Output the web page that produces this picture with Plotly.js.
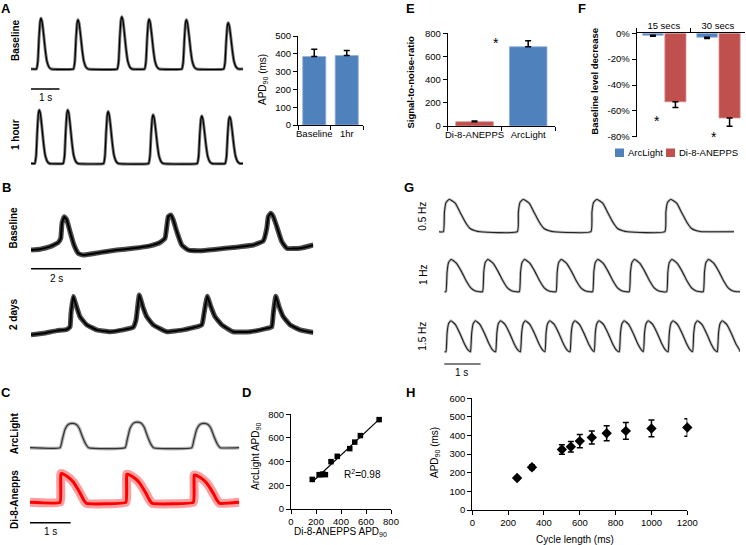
<!DOCTYPE html>
<html><head><meta charset="utf-8">
<script src="https://cdn.plot.ly/plotly-3.0.1.min.js"></script>
<style>html,body{margin:0;padding:0;background:#fff}#chart{width:746px;height:545px}</style>
</head><body><div id="chart"></div>
<script>
// ================= DATA =================
// Panel A: optical AP traces (peak times in s, relative amplitudes)
const aBaselinePeakTimes = [0.35, 1.65, 3.19, 4.15, 5.46, 6.93];
const aBaselinePeakAmps  = [1.0, 0.97, 1.03, 0.98, 0.97, 0.91];
const aHourPeakTimes     = [0.29, 1.29, 2.71, 4.29, 6.00, 6.98];
const aHourPeakAmps      = [1.0, 1.0, 0.97, 0.91, 0.89, 0.875];
const aShapeDt  = [-0.16, -0.11, -0.07, -0.03, 0, 0.04, 0.09, 0.15, 0.21, 0.28, 0.36];
const aShapeAmp = [0, 0.15, 0.6, 0.93, 1, 0.93, 0.7, 0.38, 0.15, 0.04, 0];
const aTraceEnd = 7.45;
// Panel A bar chart
const aBarCats = ['Baseline', '1hr'];
const aBarApd  = [385, 390];
const aBarErr  = [40, 28];

// Panel B: traces read point by point (time s, signal a.u.)
const bBaseT = [0.00,0.36,0.76,1.09,1.19,1.24,1.33,1.43,1.56,1.72,1.89,2.09,2.76,3.43,4.09,4.76,5.16,5.36,5.43,5.49,5.59,5.69,5.83,6.03,6.29,6.76,7.43,8.09,8.89,9.29,9.43,9.49,9.59,9.69,9.83,10.03,10.23,10.76,11.29];
const bBaseV = [0.12,0.14,0.20,0.30,0.40,0.76,0.92,0.84,0.56,0.24,0.04,0.00,0.06,0.12,0.16,0.22,0.30,0.40,0.68,0.92,0.96,0.84,0.56,0.24,0.12,0.10,0.14,0.18,0.24,0.34,0.64,0.92,1.00,0.92,0.68,0.32,0.16,0.16,0.24];
const b2dT = [0.00,0.49,1.03,1.43,1.56,1.60,1.69,1.80,1.96,2.23,2.63,3.16,3.69,4.09,4.20,4.33,4.47,4.63,4.89,5.43,6.09,6.83,6.92,7.05,7.19,7.36,7.63,8.09,8.76,9.43,9.63,9.69,9.79,9.92,10.09,10.36,10.76,11.29];
const b2dV = [-0.04,0.00,0.07,0.10,0.17,0.52,0.96,0.74,0.43,0.22,0.09,0.04,0.09,0.16,0.35,1.00,0.70,0.43,0.22,0.04,0.09,0.22,0.52,0.97,0.70,0.43,0.22,0.04,0.04,0.13,0.17,0.52,0.97,0.70,0.43,0.22,0.09,0.02];

// Panel C: ArcLight vs Di-8-ANEPPS traces
const cArcOnsets = [0.74, 2.34, 3.98];
const cArcAmps   = [1.0, 1.05, 1.0];
const cArcDt     = [0, 0.05, 0.12, 0.2, 0.3, 0.4, 0.47, 0.55, 0.63, 0.7];
const cArcShape  = [0, 0.3, 0.75, 0.95, 1, 0.95, 0.8, 0.45, 0.15, 0];
const cDiOnsets  = [0.74, 2.36, 4.02];
const cDiAmps    = [1.05, 1.03, 1.0];
const cDiDt      = [0, 0.02, 0.1, 0.25, 0.33, 0.42, 0.5, 0.58, 0.65];
const cDiShape   = [0, 1.0, 0.97, 0.82, 0.7, 0.5, 0.3, 0.08, -0.04];
const cTraceEnd  = 5.15;

// Panel D: APD90 correlation (ms)
const dDi8Apd = [170, 225, 240, 255, 275, 320, 370, 470, 510, 555, 705];
const dArcApd = [250, 290, 290, 295, 290, 400, 445, 510, 565, 620, 755];

// Panel E: signal-to-noise ratio
const eCats = ['Di-8-ANEPPS', 'ArcLight'];
const eSnr  = [37, 684];
const eErr  = [7, 52];

// Panel F: baseline level decrease (%)
const fCats     = ['15 secs', '30 secs'];
const fArcLight = [-1.5, -3];
const fArcErr   = [0.8, 1];
const fDi8      = [-53, -65.5];
const fDi8Err   = [4.5, 6.5];
const fTickVals = [-80, -60, -40, -20, 0];
const fTickText = ['-80%', '-60%', '-40%', '-20%', '0%'];

// Panel G: paced traces
const g05Onsets = [0.12, 2.12, 4.11, 6.11];
const g05Amps   = [1, 1, 1, 1];
const g05Dt     = [0, 0.027, 0.07, 0.16, 0.32, 0.45, 0.59, 0.72, 0.86, 0.99];
const g05Shape  = [0, 0.6, 0.9, 1.0, 0.88, 0.6, 0.3, 0.1, 0.03, 0];
const g05End    = 7.98;
const g1Onsets  = [0.045, 1.036, 2.03, 3.02, 4.01, 5.0, 6.01, 7.0];
const g1Amps    = [1, 1, 1, 1, 1, 1, 1, 1];
const g1Dt      = [0, 0.03, 0.07, 0.14, 0.28, 0.42, 0.55, 0.67, 0.78, 0.9];
const g1Shape   = [0, 0.6, 0.9, 1.0, 0.88, 0.62, 0.33, 0.12, 0.03, 0];
const g1End     = 7.99;
const g15Onsets = [0.045, 0.71, 1.39, 2.06, 2.72, 3.40, 4.05, 4.73, 5.38, 6.05, 6.71, 7.38];
const g15Amps   = [1, 1, 1, 1, 1, 1, 1, 1, 1, 1, 1, 1];
const g15Dt     = [0, 0.03, 0.07, 0.13, 0.25, 0.38, 0.5, 0.6, 0.66];
const g15Shape  = [0, 0.6, 0.9, 1.0, 0.88, 0.58, 0.25, 0.05, 0];
const g15End    = 7.99;

// Panel H: APD restitution
const hCycle = [250, 333, 500, 550, 600, 667, 750, 857, 1000, 1200];
const hApd   = [172, 230, 325, 340, 370, 390, 412, 425, 438, 443];
const hErr   = [8, 12, 25, 28, 35, 35, 40, 45, 45, 47];

// ================= BUILD =================
const W = 746, H = 545;
const X = p => p / W;
const Y = p => 1 - p / H;
const BLUE = '#4F81BD', RED = '#C0504D';
const FONT = 'Liberation Sans, Arial, sans-serif';

const layout = {
  width: W, height: H, autosize: false,
  margin: {l: 0, r: 0, t: 0, b: 0},
  paper_bgcolor: '#fff', plot_bgcolor: 'rgba(0,0,0,0)',
  font: {family: FONT, size: 10, color: '#000'},
  showlegend: false, barmode: 'group',
  shapes: [], annotations: []
};
const data = [];
let n = 0;
function newAxes(spec) {
  n++;
  const s = n === 1 ? '' : String(n);
  layout['xaxis' + s] = Object.assign({domain: spec.xd, anchor: 'y' + s}, spec.x);
  layout['yaxis' + s] = Object.assign({domain: spec.yd, anchor: 'x' + s}, spec.y);
  return {x: 'x' + s, y: 'y' + s};
}
function signalAxes(x0, x1, end, yBase, yPeak) {
  const h = yBase - yPeak, lo = -0.45, hi = 1.4;
  const top = Math.max(0, yBase - hi * h), bot = Math.min(H, yBase - lo * h);
  const vBot = (yBase - bot) / h, vTop = (yBase - top) / h;
  return newAxes({xd: [X(x0), X(x1)], yd: [Y(bot), Y(top)],
    x: {range: [0, end], visible: false, fixedrange: true},
    y: {range: [vBot, vTop], visible: false, fixedrange: true}});
}
function beatSeries(onsets, amps, dts, shape, end) {
  const xs = [0], ys = [0];
  onsets.forEach((t0, i) => {
    const limit = i + 1 < onsets.length ? onsets[i + 1] + dts[0] : end;
    dts.forEach((d, j) => {
      const t = t0 + d;
      if (t > xs[xs.length - 1] && t < limit && t < end) { xs.push(t); ys.push(amps[i] * shape[j]); }
    });
  });
  xs.push(end); ys.push(0);
  return {xs, ys};
}
function addSignal(ax, xs, ys, core, coreW, fuzz, fuzzW, smooth) {
  const base = {x: xs, y: ys, xaxis: ax.x, yaxis: ax.y, type: 'scatter', mode: 'lines',
    hoverinfo: 'skip', showlegend: false};
  data.push(Object.assign({}, base, {line: {color: fuzz, width: fuzzW, shape: 'spline', smoothing: smooth}}));
  data.push(Object.assign({}, base, {line: {color: core, width: coreW, shape: 'spline', smoothing: smooth}}));
}
function txt(x, y, text, o) {
  layout.annotations.push(Object.assign({xref: 'paper', yref: 'paper', x: X(x), y: Y(y), text: text,
    showarrow: false, xanchor: 'center', yanchor: 'middle', font: {size: 10, color: '#000', family: FONT}}, o || {}));
}
function scaleBar(ax, t0, t1, ypx, label, labelY, color) {
  layout.shapes.push({type: 'line', xref: ax.x, yref: 'paper', x0: t0, x1: t1, y0: Y(ypx), y1: Y(ypx),
    line: {color: color || '#000', width: 1.5}});
  layout.annotations.push({xref: ax.x, yref: 'paper', x: (t0 + t1) / 2, y: Y(labelY), text: label,
    showarrow: false, xanchor: 'center', yanchor: 'middle', font: {size: 10, color: '#000', family: FONT}});
}

// ---- Panel A traces ----
const axA1 = signalAxes(31, 243, aTraceEnd, 69, 18.3);
let s = beatSeries(aBaselinePeakTimes, aBaselinePeakAmps, aShapeDt, aShapeAmp, aTraceEnd);
addSignal(axA1, s.xs, s.ys, '#000', 1.2, 'rgba(0,0,0,0.55)', 3, 0.3);
const axA2 = signalAxes(31, 243, aTraceEnd, 163.5, 110);
s = beatSeries(aHourPeakTimes, aHourPeakAmps, aShapeDt, aShapeAmp, aTraceEnd);
addSignal(axA2, s.xs, s.ys, '#000', 1.2, 'rgba(0,0,0,0.55)', 3, 0.3);
scaleBar(axA1, 0, 1, 89, '1 s', 97.7);

// ---- Panel A bars ----
const axStyle = {showline: true, linecolor: '#000', linewidth: 1, ticks: 'outside', ticklen: 4,
  tickwidth: 1, tickcolor: '#000', showgrid: false, zeroline: false, tickangle: 0,
  tickfont: {size: 9.5, color: '#000', family: FONT}, fixedrange: true};
const axAB = newAxes({xd: [X(298), X(363)], yd: [Y(125), Y(36)],
  x: Object.assign({}, axStyle, {type: 'category', range: [-0.5, 1.5], tickson: 'boundaries'}),
  y: Object.assign({}, axStyle, {range: [0, 500], dtick: 100, tick0: 0})});
data.push({type: 'bar', x: aBarCats, y: aBarApd, width: 0.71, xaxis: axAB.x, yaxis: axAB.y,
  marker: {color: BLUE, line: {color: '#8fb0da', width: 0.8}}, showlegend: false,
  error_y: {type: 'data', symmetric: false, array: aBarErr, arrayminus: [0, 0], color: '#000', thickness: 1.5, width: 3}});
txt(263, 80, 'APD<sub>90</sub> (ms)', {textangle: -90});

// ---- Panel B ----
const axB1 = signalAxes(31, 313.3, 11.29, 255, 213.3);
addSignal(axB1, bBaseT, bBaseV, '#000', 2, 'rgba(0,0,0,0.7)', 5, 0.35);
const axB2 = signalAxes(31, 313.3, 11.29, 333.3, 295);
addSignal(axB2, b2dT, b2dV, '#000', 2, 'rgba(0,0,0,0.7)', 5, 0.35);
scaleBar(axB1, 0, 2, 268.7, '2 s', 278.3);

// ---- Panel C ----
const axC1 = signalAxes(30, 239.3, cTraceEnd, 447.7, 423.3);
s = beatSeries(cArcOnsets, cArcAmps, cArcDt, cArcShape, cTraceEnd);
addSignal(axC1, s.xs, s.ys, '#333', 1.2, 'rgba(0,0,0,0.3)', 3.5, 0.4);
const axC2 = signalAxes(30, 239.3, cTraceEnd, 502.3, 475);
s = beatSeries(cDiOnsets, cDiAmps, cDiDt, cDiShape, cTraceEnd);
addSignal(axC2, s.xs, s.ys, '#ff0000', 3, 'rgba(255,40,40,0.45)', 9, 0.3);
scaleBar(axC1, 0, 1, 522.7, '1 s', 531.7);

// ---- Panel D ----
const axD = newAxes({xd: [X(291), X(391)], yd: [Y(509), Y(414.3)],
  x: Object.assign({}, axStyle, {range: [0, 800], dtick: 200, tick0: 0}),
  y: Object.assign({}, axStyle, {range: [0, 800], dtick: 200, tick0: 0})});
(function () {
  const m = dDi8Apd.length;
  const mx = dDi8Apd.reduce((a, b) => a + b, 0) / m, my = dArcApd.reduce((a, b) => a + b, 0) / m;
  let sxy = 0, sxx = 0;
  for (let i = 0; i < m; i++) { sxy += (dDi8Apd[i] - mx) * (dArcApd[i] - my); sxx += (dDi8Apd[i] - mx) ** 2; }
  const k = sxy / sxx, b0 = my - k * mx;
  const lx = [Math.min(...dDi8Apd), Math.max(...dDi8Apd)];
  data.push({type: 'scatter', mode: 'lines', x: lx, y: lx.map(v => k * v + b0), xaxis: axD.x, yaxis: axD.y,
    line: {color: '#000', width: 1.2}, showlegend: false, hoverinfo: 'skip'});
})();
data.push({type: 'scatter', mode: 'markers', x: dDi8Apd, y: dArcApd, xaxis: axD.x, yaxis: axD.y,
  marker: {symbol: 'square', size: 5.5, color: '#000'}, showlegend: false, cliponaxis: false});
txt(362, 474, 'R<sup>2</sup>=0.98');
txt(256, 457, 'ArcLight APD<sub>90</sub>', {textangle: -90});
txt(340, 532, 'Di-8-ANEPPS APD<sub>90</sub>');

// ---- Panel E ----
const axE = newAxes({xd: [X(447.7), X(555)], yd: [Y(126), Y(33.3)],
  x: Object.assign({}, axStyle, {type: 'category', range: [-0.5, 1.5], tickson: 'boundaries'}),
  y: Object.assign({}, axStyle, {range: [0, 800], dtick: 200, tick0: 0})});
data.push({type: 'bar', x: eCats, y: eSnr, width: 0.7, xaxis: axE.x, yaxis: axE.y,
  marker: {color: [RED, BLUE], line: {color: ['#d9908e', '#8fb0da'], width: 0.8}}, showlegend: false,
  error_y: {type: 'data', symmetric: false, array: eErr, arrayminus: [0, 0], color: '#000', thickness: 1.5, width: 3}});
txt(496, 43, '*', {font: {size: 14, color: '#000', family: FONT}});
txt(410.8, 81.7, 'Signal-to-noise-ratio', {textangle: -90, font: {size: 9.5, color: '#000', family: FONT, weight: 'bold'}});

// ---- Panel F ----
const axF = newAxes({xd: [X(636.7), X(745)], yd: [Y(136.7), Y(33.3)],
  x: Object.assign({}, axStyle, {type: 'category', range: [-0.5, 1.5], tickson: 'boundaries', side: 'top'}),
  y: Object.assign({}, axStyle, {range: [-80, 0], tickvals: fTickVals, ticktext: fTickText})});
data.push({type: 'bar', name: 'ArcLight', x: fCats, y: fArcLight, width: 0.38, offset: -0.39,
  xaxis: axF.x, yaxis: axF.y, marker: {color: BLUE, line: {color: '#8fb0da', width: 0.8}},
  error_y: {type: 'data', symmetric: false, array: [0, 0], arrayminus: fArcErr, color: '#000', thickness: 1.5, width: 3}});
data.push({type: 'bar', name: 'Di-8-ANEPPS', x: fCats, y: fDi8, width: 0.39, offset: 0.02,
  xaxis: axF.x, yaxis: axF.y, marker: {color: RED, line: {color: '#d9908e', width: 0.8}},
  error_y: {type: 'data', symmetric: false, array: [0, 0], arrayminus: fDi8Err, color: '#000', thickness: 1.5, width: 3}});
txt(656.7, 121, '*', {font: {size: 14, color: '#000', family: FONT}});
txt(714.3, 136.5, '*', {font: {size: 14, color: '#000', family: FONT}});
txt(595, 81.7, 'Baseline level decrease', {textangle: -90, font: {size: 9.5, color: '#000', family: FONT, weight: 'bold'}});
// legend for F
layout.shapes.push({type: 'rect', xref: 'paper', yref: 'paper', x0: X(615), x1: X(624), y0: Y(157), y1: Y(148.5), fillcolor: BLUE, line: {width: 0}});
layout.shapes.push({type: 'rect', xref: 'paper', yref: 'paper', x0: X(666), x1: X(675), y0: Y(157), y1: Y(148.5), fillcolor: RED, line: {width: 0}});
txt(625.5, 153, 'ArcLight', {xanchor: 'left', font: {size: 9.5, color: '#000', family: FONT}});
txt(677, 153, 'Di-8-ANEPPS', {xanchor: 'left', font: {size: 9.5, color: '#000', family: FONT}});

// ---- Panel G ----
const axG1 = signalAxes(439, 734, g05End, 231.7, 199.3);
s = beatSeries(g05Onsets, g05Amps, g05Dt, g05Shape, g05End);
addSignal(axG1, s.xs, s.ys, '#222', 1.1, 'rgba(0,0,0,0.25)', 2.8, 0.4);
const axG2 = signalAxes(444.3, 740, g1End, 291.7, 259.3);
s = beatSeries(g1Onsets, g1Amps, g1Dt, g1Shape, g1End);
addSignal(axG2, s.xs, s.ys, '#222', 1.1, 'rgba(0,0,0,0.25)', 2.8, 0.4);
const axG3 = signalAxes(444.3, 740, g15End, 351.7, 320.7);
s = beatSeries(g15Onsets, g15Amps, g15Dt, g15Shape, g15End);
addSignal(axG3, s.xs, s.ys, '#222', 1.1, 'rgba(0,0,0,0.25)', 2.8, 0.4);
scaleBar(axG3, -0.03, 0.98, 364, '1 s', 372, '#555');
txt(423, 216.7, '0.5 Hz', {textangle: -90});
txt(423, 275, '1 Hz', {textangle: -90});
txt(423, 336.7, '1.5 Hz', {textangle: -90});

// ---- Panel H ----
const axH = newAxes({xd: [X(472.3), X(687.3)], yd: [Y(510), Y(398.3)],
  x: Object.assign({}, axStyle, {range: [0, 1200], dtick: 200, tick0: 0}),
  y: Object.assign({}, axStyle, {range: [0, 600], dtick: 100, tick0: 0})});
data.push({type: 'scatter', mode: 'markers', x: hCycle, y: hApd, xaxis: axH.x, yaxis: axH.y, cliponaxis: false,
  marker: {symbol: 'diamond', size: 8, color: '#000'}, showlegend: false,
  error_y: {type: 'data', array: hErr, color: '#000', thickness: 1.5, width: 3}});
txt(435, 453, 'APD<sub>90</sub> (ms)', {textangle: -90});
txt(575, 539.3, 'Cycle length (ms)');

// ---- Row labels ----
const bold10 = {size: 10, color: '#000', family: FONT, weight: 'bold'};
txt(15, 40, 'Baseline', {textangle: -90, font: bold10});
txt(15, 135, '1 hour', {textangle: -90, font: bold10});
txt(13, 227.5, 'Baseline', {textangle: -90, font: bold10});
txt(13, 314, '2 days', {textangle: -90, font: bold10});
txt(14, 433.3, 'ArcLight', {textangle: -90, font: bold10});
txt(14, 500, 'Di-8-Anepps', {textangle: -90, font: bold10});

// ---- Panel letters ----
const letterFont = {size: 13, color: '#000', family: FONT, weight: 'bold'};
[['A', 6, 9], ['B', 6, 187], ['C', 6, 392], ['D', 246, 392], ['E', 410, 9], ['F', 582, 9], ['G', 409, 187], ['H', 410, 392]]
  .forEach(l => txt(l[1], l[2], l[0], {font: letterFont}));

Plotly.newPlot('chart', data, layout, {staticPlot: true, displayModeBar: false});
</script>
</body></html>
